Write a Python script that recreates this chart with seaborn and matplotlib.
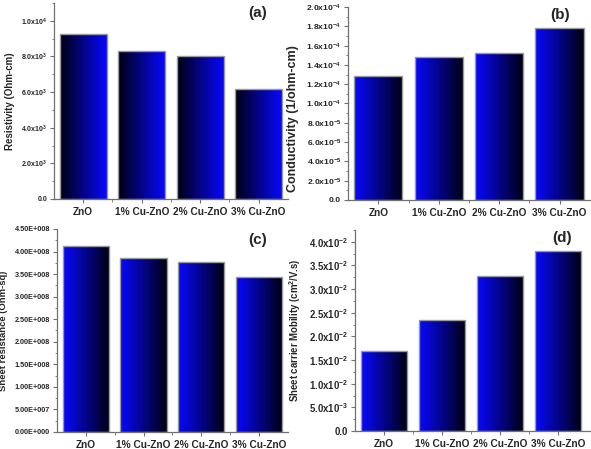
import numpy as np
import matplotlib
matplotlib.use("Agg")
import matplotlib.pyplot as plt
import seaborn as sns
from matplotlib.colors import LinearSegmentedColormap
from matplotlib.ticker import FixedLocator, FuncFormatter, MultipleLocator, AutoMinorLocator

# Data
samples = ["ZnO", "1% Cu-ZnO", "2% Cu-ZnO", "3% Cu-ZnO"]
resistivity = [9.25e3, 8.33e3, 8.03e3, 6.16e3]          # Ohm-cm
conductivity = [1.285e-4, 1.485e-4, 1.523e-4, 1.782e-4]  # 1/ohm-cm
sheet_resistance = [4.12e8, 3.86e8, 3.76e8, 3.43e8]      # Ohm-sq
mobility = [1.69e-2, 2.34e-2, 3.27e-2, 3.81e-2]          # cm2/V.s

sns.set_theme(style="ticks")
plt.rcParams["font.family"] = ["Liberation Sans", "DejaVu Sans"]
plt.rcParams["font.weight"] = "bold"
plt.rcParams["mathtext.fontset"] = "custom"
plt.rcParams["mathtext.rm"] = "Liberation Sans:bold"
plt.rcParams["mathtext.bf"] = "Liberation Sans:bold"
plt.rcParams["mathtext.default"] = "bf"

blue_dark = LinearSegmentedColormap.from_list("bd", ["#000010", "#0808ff"])
SPINE = "#707070"


def sci_fmt(v, pos):
    if v == 0:
        return "0.0"
    e = int(np.floor(np.log10(abs(v)) + 1e-9))
    m = v / 10 ** e
    return f"{m:.1f}x10$^{{{e}}}$"


def e_fmt(v, pos):
    if v == 0:
        return "0.00E+000"
    e = int(np.floor(np.log10(abs(v)) + 1e-9))
    m = v / 10 ** e
    return f"{m:.2f}E+{e:03d}"


def gradient_bars(ax, dark_left):
    grad = np.linspace(0, 1, 256).reshape(1, -1)
    if not dark_left:
        grad = grad[:, ::-1]
    for bar in ax.patches:
        x, y = bar.get_x(), bar.get_y()
        w, h = bar.get_width(), bar.get_height()
        im = ax.imshow(grad, cmap=blue_dark, extent=[x, x + w, y, y + h],
                       aspect="auto", zorder=1.5, interpolation="bilinear")
        im.set_clip_path(bar)
        bar.set_facecolor("none")
        bar.set_edgecolor("#9a9a9a")
        bar.set_linewidth(1.0)
        bar.set_zorder(2)


def panel(rect, values, ylim, major, fmt, ylabel, letter, letter_xy, dark_left,
          tick_size, label_size, label_xy, xlim=(-0.5, 3.5)):
    ax = fig.add_axes(rect)
    sns.barplot(x=samples, y=values, ax=ax, width=0.8, color="blue")
    gradient_bars(ax, dark_left)
    ax.set_xlim(*xlim)
    ax.set_ylim(*ylim)
    ax.yaxis.set_major_locator(MultipleLocator(major))
    ax.yaxis.set_minor_locator(AutoMinorLocator(2))
    ax.yaxis.set_major_formatter(FuncFormatter(fmt))
    ax.xaxis.set_minor_locator(FixedLocator([0.5, 1.5, 2.5]))
    sns.despine(ax=ax)
    for s in ("left", "bottom"):
        ax.spines[s].set_color(SPINE)
        ax.spines[s].set_linewidth(0.9)
    ax.tick_params(axis="y", which="major", labelsize=tick_size, length=3,
                   width=0.8, color=SPINE, pad=2)
    ax.tick_params(axis="y", which="minor", length=1.8, width=0.6, color=SPINE)
    ax.tick_params(axis="x", which="major", labelsize=7.3, length=3,
                   width=0.8, color=SPINE, pad=3)
    ax.tick_params(axis="x", which="minor", length=2, width=0.6, color=SPINE)
    for t in ax.get_xticklabels() + ax.get_yticklabels():
        t.set_fontweight("bold")
    ax.set_xlabel("")
    ax.set_ylabel(ylabel, fontsize=label_size, fontweight="bold")
    ax.yaxis.set_label_coords(*label_xy)
    ax.text(letter_xy[0], letter_xy[1], letter, transform=ax.transAxes,
            fontsize=11, fontweight="bold", ha="center", va="center")
    return ax


fig = plt.figure(figsize=(5.91, 4.49), dpi=100)

panel([0.0914, 0.5568, 0.3957, 0.4365], resistivity, (0, 1.1e4), 2e3, sci_fmt,
      "Resistivity (Ohm-cm)", "(a)", (0.87, 0.95), True, 5.0, 7.0, (-0.167, 0.5))

panel([0.589, 0.5546, 0.409, 0.4298], conductivity, (0, 2.0e-4), 2e-5, sci_fmt,
      "Conductivity (1/ohm-cm)", "(b)", (0.875, 0.958), False, 6.1, 9.0,
      (-0.205, 0.42))

panel([0.0964, 0.0379, 0.3907, 0.4521], sheet_resistance, (0, 4.5e8), 5e7, e_fmt,
      "Sheet resistance (Ohm-sq)", "(c)", (0.87, 0.946), False, 5.2, 6.8,
      (-0.212, 0.5))

panel([0.6007, 0.040, 0.3973, 0.4477], mobility, (0, 4.25e-2), 5e-3, sci_fmt,
      "Sheet carrier Mobility (cm$^2$/V.s)", "(d)", (0.88, 0.96), False, 6.9, 6.9,
      (-0.221, 0.5), xlim=(-0.5, 3.55))

fig.savefig("out.png", dpi=100)
